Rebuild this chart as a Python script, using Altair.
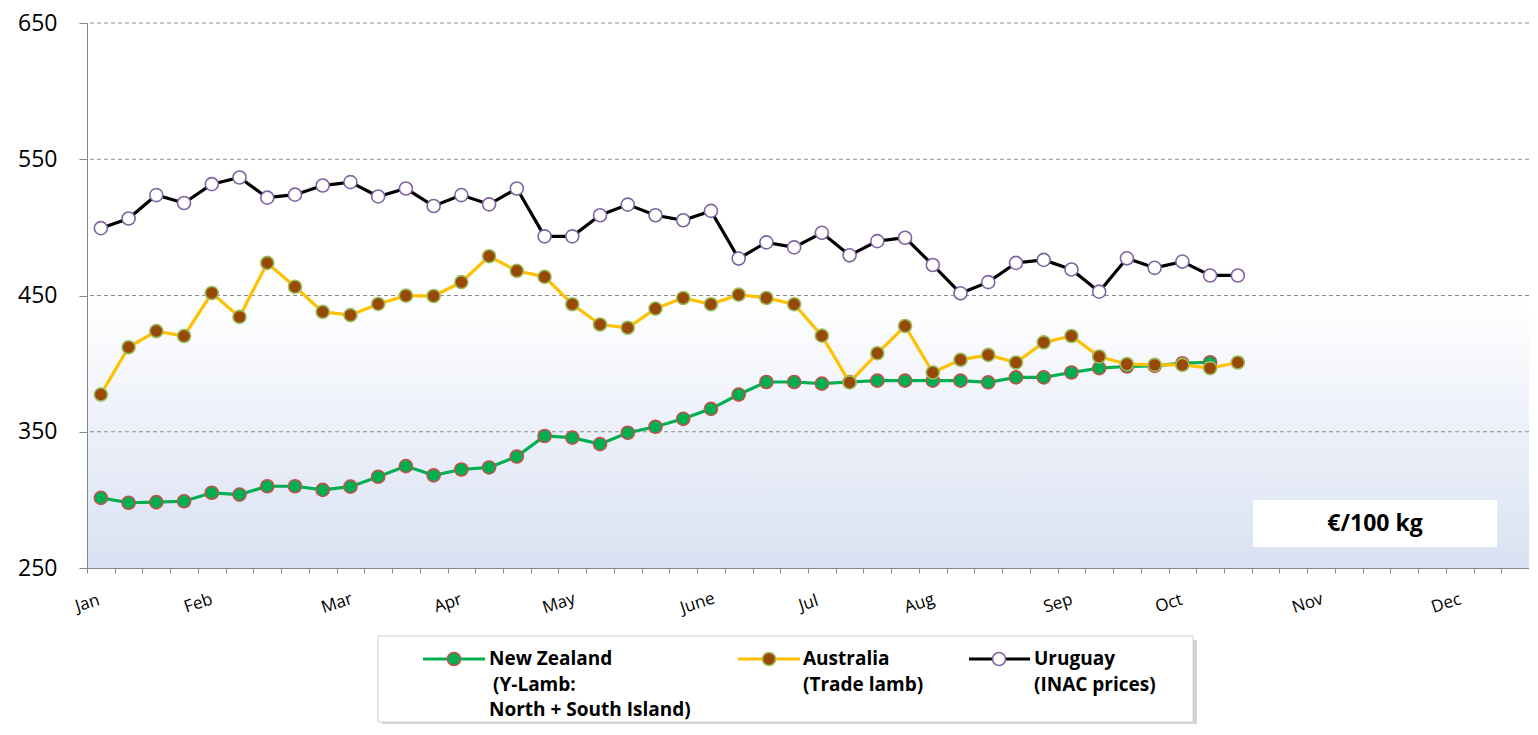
import altair as alt
import pandas as pd

# ---------------- data ----------------
weeks = list(range(1, 43))
nz = [301.5, 297.9, 298.3, 299.0, 305.2, 303.9, 310.0, 310.0, 307.3, 309.7,
      317.0, 324.8, 318.0, 322.3, 323.8, 331.8, 346.9, 345.7, 340.9, 349.3,
      353.7, 359.5, 366.8, 377.3, 386.5, 386.5, 385.3, 386.5, 387.5, 387.5,
      387.5, 387.5, 386.2, 389.9, 389.9, 393.5, 396.7, 397.9, 398.4, 400.3,
      401.0]
aus = [377.3, 412.0, 423.9, 420.3, 451.8, 434.3, 473.9, 456.4, 438.0, 435.6,
       443.8, 449.9, 449.6, 459.8, 478.8, 468.1, 463.7, 443.6, 428.7, 426.3,
       440.4, 448.2, 443.6, 450.6, 448.2, 443.6, 420.5, 386.2, 407.6, 427.6,
       393.5, 402.8, 406.4, 400.8, 415.6, 420.3, 405.2, 399.6, 399.1, 399.1,
       396.7, 400.8]
uru = [499.4, 506.5, 523.7, 517.9, 531.7, 536.6, 521.8, 524.0, 530.7, 533.2,
       522.7, 528.5, 515.7, 523.7, 516.9, 528.5, 493.4, 493.4, 508.9, 516.7,
       508.9, 505.2, 512.1, 477.1, 489.0, 485.3, 496.0, 479.5, 489.9, 492.4,
       472.4, 451.6, 459.8, 473.9, 476.1, 469.1, 452.8, 477.3, 470.3, 474.9,
       464.7, 464.7]

month_names = ["Jan", "Feb", "Mar", "Apr", "May", "June", "Jul", "Aug",
               "Sep", "Oct", "Nov", "Dec"]
month_ticks = [0, 4, 9, 13, 17, 22, 26, 30, 35, 39, 44, 49]
y_ticks = [250, 350, 450, 550, 650]
grid_vals = [350, 450, 550, 650]

series_names = ["New Zealand", "Australia", "Uruguay"]
line_colors = ["#00B050", "#FFC000", "#000000"]
marker_fill = ["#00B050", "#984807", "#FFFFFF"]
marker_stroke = ["#C0504D", "#9BBB59", "#8064A2"]

rows = []
for name, vals in zip(series_names, [nz, aus, uru]):
    for w, v in zip(weeks, vals):
        rows.append({"series": name, "week": w, "value": v})
df = pd.DataFrame(rows)
one = pd.DataFrame({"k": [0]})

W, H = 1442, 545
FONT = "Open Sans"

label_expr = " : ".join(
    f"datum.value == {t} ? '{m}'" for t, m in zip(month_ticks, month_names)
) + " : ''"

x_enc = alt.X(
    "pos:Q",
    scale=alt.Scale(domain=[0, 52], nice=False, zero=False),
    axis=alt.Axis(
        values=list(range(0, 53)), labelExpr=label_expr, title=None,
        tickSize=5, tickColor="#868686", domainColor="#868686",
        labelAngle=-18, labelAlign="center", labelBaseline="middle",
        labelPadding=30, labelFontSize=17, labelFont=FONT, labelColor="#000000",
        labelOverlap=False, labelFlush=False, grid=False, zindex=1,
    ),
)
y_enc = alt.Y(
    "value:Q",
    scale=alt.Scale(domain=[250, 650], nice=False, zero=False),
    axis=alt.Axis(
        values=y_ticks, title=None, tickSize=8, tickColor="#868686",
        domainColor="#868686", labelPadding=22, labelFontSize=23,
        labelFont=FONT, labelColor="#000000", grid=False, zindex=1,
        labelFlush=False, labelOverlap=False,
    ),
)

# background gradient
bg = alt.Chart(one).mark_rect(
    color={"gradient": "linear", "x1": 0, "y1": 0, "x2": 0, "y2": 1,
           "stops": [{"offset": 0, "color": "#FFFFFF"},
                     {"offset": 0.5, "color": "#FFFFFF"},
                     {"offset": 1, "color": "#D9E1F2"}]}
).encode(x=alt.value(0), x2=alt.value(W), y=alt.value(0), y2=alt.value(H))

grid = alt.Chart(pd.DataFrame({"value": grid_vals})).mark_rule(
    color="#8C8C8C", strokeDash=[4, 3], strokeWidth=1
).encode(y=y_enc)

layers = [bg, grid]
base = alt.Chart(df).transform_calculate(pos="datum.week - 0.5")
for name, lc, mf, ms in zip(series_names, line_colors, marker_fill, marker_stroke):
    sub = base.transform_filter(alt.datum.series == name)
    layers.append(sub.mark_line(color=lc, strokeWidth=3.2).encode(x=x_enc, y=y_enc))
    layers.append(sub.mark_point(shape="circle", filled=True, fill=mf, stroke=ms,
                                 strokeWidth=1.6, size=170, opacity=1).encode(x=x_enc, y=y_enc))

# unit box
layers.append(alt.Chart(one).mark_rect(color="#FFFFFF").encode(
    x=alt.value(1166), x2=alt.value(1410), y=alt.value(477), y2=alt.value(524)))
layers.append(alt.Chart(one).mark_text(text="€/100 kg", font=FONT, fontSize=23,
                                       fontWeight="bold", color="#000000",
                                       align="center", baseline="middle").encode(
    x=alt.value(1288), y=alt.value(501)))

# legend box with shadow
layers.append(alt.Chart(one).mark_rect(color="#BFBFBF", opacity=0.7).encode(
    x=alt.value(295), x2=alt.value(1110), y=alt.value(617), y2=alt.value(702)))
layers.append(alt.Chart(one).mark_rect(fill="#FFFFFF", stroke="#D0D0D0", strokeWidth=1).encode(
    x=alt.value(291), x2=alt.value(1106), y=alt.value(613), y2=alt.value(699)))

legend_items = [
    (336, 398, 367, [402, 406, 402], ["New Zealand", "(Y-Lamb:", "North + South Island)"]),
    (651, 713, 682, [716, 716], ["Australia", "(Trade lamb)"]),
    (882, 943, 912, [947, 947], ["Uruguay", "(INAC prices)"]),
]
row_y = [636, 662, 687]
for (lx1, lx2, cx, txs, texts), lc, mf, ms in zip(legend_items, line_colors, marker_fill, marker_stroke):
    layers.append(alt.Chart(one).mark_rule(color=lc, strokeWidth=3.2).encode(
        x=alt.value(lx1), x2=alt.value(lx2), y=alt.value(row_y[0])))
    layers.append(alt.Chart(one).mark_point(shape="circle", filled=True, fill=mf, stroke=ms,
                                            strokeWidth=1.6, size=170, opacity=1).encode(
        x=alt.value(cx), y=alt.value(row_y[0])))
    for t, tx, yy in zip(texts, txs, row_y):
        layers.append(alt.Chart(one).mark_text(text=t, font=FONT, fontSize=19, fontWeight="bold",
                                               color="#000000", align="left",
                                               baseline="middle").encode(
            x=alt.value(tx), y=alt.value(yy)))

chart = alt.layer(*layers).properties(
    width=W, height=H,
    autosize=alt.AutoSizeParams(type="none"),
    padding={"left": 79, "top": 15, "right": 0, "bottom": 156},
    background="#FFFFFF",
).configure_view(stroke=None)

chart.save("out.html", embed_options={"renderer": "svg", "actions": False})
